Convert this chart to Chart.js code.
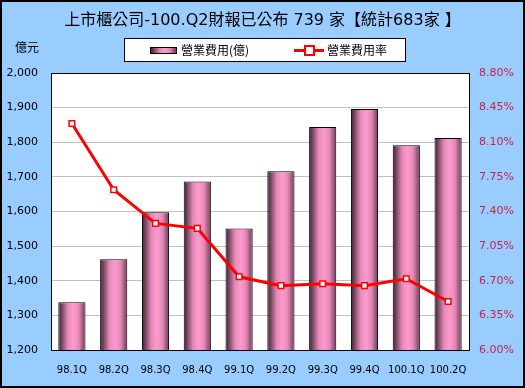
<!DOCTYPE html>
<html>
<head>
<meta charset="utf-8">
<script src="https://cdn.jsdelivr.net/npm/chart.js@4"></script>
<style>
  body { margin: 0; }
  #wrap { position: relative; width: 525px; height: 388px; background: #99ccff; box-sizing: border-box; border: 2px solid #000; overflow: hidden; }
  #wrap canvas { position: absolute; left: -2px; top: -2px; }
  .txt { position: absolute; font-family: "DejaVu Sans", "Noto Sans CJK TC", sans-serif; color: #000; white-space: nowrap; }
  #title { left: 0; width: 521px; top: 6px; text-align: center; font-size: 16px; line-height: 24px; }
  #unit { left: 13px; top: 36px; font-size: 12px; line-height: 18px; font-family: "Noto Sans CJK TC", sans-serif; }
  #legend { position: absolute; left: 122px; top: 36px; width: 280px; height: 22px; background: #fff; border: 1px solid #000; }
  #legend .sw1 { position: absolute; left: 25px; top: 8px; width: 27px; height: 7px; border: 1px solid #000; box-sizing: border-box;
    background: linear-gradient(to right, #3a1f2e, #e58ab8 35%, #ff9acc 55%, #e58ab8 75%, #6b3a55); }
  #legend .ln { position: absolute; left: 169px; top: 10px; width: 30px; height: 3px; background: #f00; }
  #legend .sq { position: absolute; left: 179px; top: 6px; width: 7px; height: 7px; background: #fff; border: 2px solid #f00; }
  #legend .t { position: absolute; top: 2px; font-size: 12px; line-height: 18px; font-family: "Noto Sans CJK TC", sans-serif; }
</style>
</head>
<body>
<div id="wrap">
  <canvas id="chart" width="525" height="388"></canvas>
  <div id="title" class="txt">上市櫃公司-100.Q2財報已公布 739 家【統計683家 】</div>
  <div id="unit" class="txt">億元</div>
  <div id="legend">
    <div class="sw1"></div><div class="t" style="left:56px">營業費用(億)</div>
    <div class="ln"></div><div class="sq"></div><div class="t" style="left:202px">營業費用率</div>
  </div>
</div>
<script>
const quarters = ['98.1Q', '98.2Q', '98.3Q', '98.4Q', '99.1Q', '99.2Q', '99.3Q', '99.4Q', '100.1Q', '100.2Q'];
const expense = [1338, 1462, 1598, 1687, 1551, 1716, 1844, 1896, 1791, 1812];
const expenseRate = [8.29, 7.62, 7.28, 7.23, 6.74, 6.65, 6.67, 6.65, 6.72, 6.49];
const leftTicks = [1200, 1300, 1400, 1500, 1600, 1700, 1800, 1900, 2000];
const rightTicks = [6.00, 6.35, 6.70, 7.05, 7.40, 7.75, 8.10, 8.45, 8.80];

const barPct = 0.65;
const tickFont = { family: 'DejaVu Sans', size: 11 };

// horizontal gradient for each bar, like a cylinder
function barFill(ctx) {
  const chart = ctx.chart;
  const xs = chart.scales.x;
  if (!xs || ctx.dataIndex === undefined) return '#ff9acc';
  const cx = xs.getPixelForValue(ctx.dataIndex);
  const half = xs.width / quarters.length * barPct / 2;
  if (!isFinite(cx) || !isFinite(half) || half <= 0) return '#ff9acc';
  const g = chart.ctx.createLinearGradient(cx - half, 0, cx + half, 0);
  g.addColorStop(0, '#3a1f2e');
  g.addColorStop(0.35, '#e58ab8');
  g.addColorStop(0.55, '#ff9acc');
  g.addColorStop(0.75, '#e58ab8');
  g.addColorStop(1, '#6b3a55');
  return g;
}

const plotBg = {
  id: 'plotBg',
  beforeDraw(chart) {
    const a = chart.chartArea, c = chart.ctx;
    c.save();
    c.fillStyle = '#fff';
    c.fillRect(a.left, a.top, a.right - a.left, a.bottom - a.top);
    c.restore();
  }
};

new Chart(document.getElementById('chart'), {
  data: {
    labels: quarters,
    datasets: [{
      type: 'line',
      label: '營業費用率',
      data: expenseRate,
      yAxisID: 'y1',
      borderColor: '#ff0000',
      borderWidth: 3,
      pointStyle: 'rect',
      pointRadius: 4,
      pointBackgroundColor: '#fff',
      pointBorderColor: '#ff0000',
      pointBorderWidth: 1.5,
      tension: 0,
      order: 0
    }, {
      type: 'bar',
      label: '營業費用(億)',
      data: expense,
      yAxisID: 'y',
      backgroundColor: barFill,
      borderColor: '#000',
      borderWidth: 1,
      borderSkipped: 'bottom',
      barPercentage: barPct,
      categoryPercentage: 1,
      order: 1
    }]
  },
  options: {
    responsive: false,
    animation: false,
    layout: { padding: { top: 73, left: 0, right: 0, bottom: 0 } },
    plugins: { legend: { display: false }, title: { display: false }, tooltip: { enabled: false } },
    scales: {
      x: {
        offset: true,
        afterFit: s => { s.height = 38; },
        grid: { display: false },
        border: { color: '#000', width: 1 },
        ticks: { color: '#000', font: { family: 'DejaVu Sans', size: 10 }, padding: 6, maxRotation: 0 }
      },
      y: {
        position: 'left',
        min: 1200, max: 2000,
        afterFit: s => { s.width = 51; },
        afterBuildTicks: s => { s.ticks = leftTicks.map(v => ({ value: v })); },
        grid: { color: c => c.tick && c.tick.value === 2000 ? '#000' : '#c0c0c0', drawTicks: false },
        border: { color: '#000', width: 1 },
        ticks: { color: '#000', font: tickFont, padding: 13, callback: v => v.toLocaleString('en-US') }
      },
      y1: {
        position: 'right',
        min: 6.0, max: 8.8,
        afterFit: s => { s.width = 56; },
        afterBuildTicks: s => { s.ticks = rightTicks.map(v => ({ value: v })); },
        grid: { drawOnChartArea: false, drawTicks: false },
        border: { color: '#000', width: 1 },
        ticks: { color: '#cc2244', font: tickFont, padding: 10, callback: v => v.toFixed(2) + '%' }
      }
    }
  },
  plugins: [plotBg]
});
</script>
</body>
</html>
